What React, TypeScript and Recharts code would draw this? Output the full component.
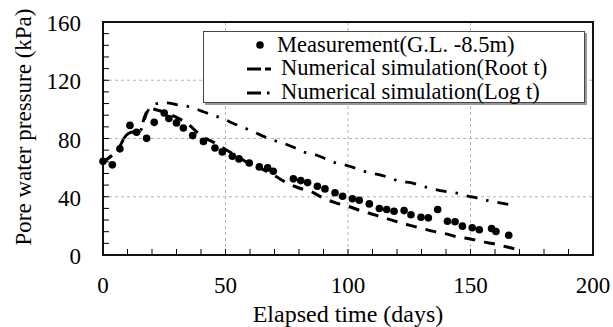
import React from "react";
import {
  CartesianGrid,
  ComposedChart,
  Legend,
  Line,
  ReferenceArea,
  Scatter,
  XAxis,
  YAxis,
} from "recharts";

const FONT = '"Liberation Serif", "Times New Roman", serif';

// measured pore water pressure, G.L. -8.5m
const measDays = [
  0, 3.8, 6.9, 11, 13.7, 17.8, 20.9, 25, 26.9, 30, 32.8, 36.6, 41, 45.7, 48.7,
  52.8, 55.5, 59.7, 63.8, 67.2, 69.5, 77.7, 80.7, 83.5, 87.5, 90.6, 94.7, 97.8,
  101.8, 104.6, 108.7, 112.8, 115.8, 118.8, 122.9, 125.7, 129.8, 132.8, 136.6,
  140.6, 143.7, 146.7, 150.7, 153.6, 158.6, 160.4, 165.6,
];
const measValues = [
  64.4, 61.9, 72.9, 89, 84.3, 80.1, 91.1, 97.5, 93.7, 90.7, 87.2, 82, 78, 73.5,
  70.8, 67.8, 66, 63.2, 60.5, 59.8, 57.5, 52.3, 51.1, 49.7, 47.2, 45.4, 42.7,
  40.3, 38.6, 37.6, 35.1, 31.9, 31.2, 30, 30.5, 27.6, 25.9, 25.5, 31.2, 23.2,
  22.8, 19.8, 18.7, 17.3, 18.2, 16.1, 13.6,
];

// numerical simulation, root t method
const rootDays = [
  0, 4, 7, 8.5, 10, 12, 15, 17, 19, 20, 25, 30, 35, 40, 45, 50, 55, 60, 65, 70,
  75, 80, 85, 90, 95, 100, 105, 110, 115, 120, 125, 130, 135, 140, 145, 150,
  155, 160, 165, 168,
];
const rootValues = [
  64, 69, 75, 80, 83, 84.5, 85, 95, 101, 100.5, 98, 94.5, 89.5, 82, 77.5, 72.5,
  67.5, 62.5, 59, 54.5, 49.5, 46, 43.5, 39, 35.8, 33.5, 30.5, 28, 25.5, 22.8,
  20.5, 18.3, 16.2, 14.5, 12.3, 11, 9, 7.5, 5.5, 4.3,
];

// numerical simulation, log t method
const logDays = [
  0, 4, 7, 8.5, 10, 12, 15, 18, 21, 25, 30, 36, 40, 44, 49, 53, 57, 61, 65, 70,
  74, 78, 82, 87, 91, 95, 100, 104, 108, 113, 117, 121, 126, 130, 135, 139, 144,
  148, 152.5, 157, 162, 166,
];
const logValues = [
  64, 69, 75, 80, 83, 84.5, 85, 98, 103.5, 104.5, 103.3, 101.4, 99, 96.5, 93.6,
  90.5, 87.7, 85, 81.8, 78.5, 76.5, 73.8, 70.7, 68.7, 66, 63.3, 61.3, 59.1,
  56.8, 55, 53, 50.6, 49.5, 47.4, 45.3, 43.8, 42.6, 40.8, 39.2, 37.4, 35.8,
  34.6,
];

const xTicks = [
  0, 10, 20, 30, 40, 50, 60, 70, 80, 90, 100, 110, 120, 130, 140, 150, 160, 170,
  180, 190, 200,
];
const yTicks = [
  0, 8, 16, 24, 32, 40, 48, 56, 64, 72, 80, 88, 96, 104, 112, 120, 128, 136, 144,
  152, 160,
];
const xLabels = [0, 50, 100, 150, 200];
const yLabels = [0, 40, 80, 120, 160];

const legendLabels = [
  "Measurement(G.L. -8.5m)",
  "Numerical simulation(Root t)",
  "Numerical simulation(Log t)",
];

const measData = measDays.map((t, i) => ({ t, p: measValues[i] }));
const rootData = rootDays.map((t, i) => ({ t, p: rootValues[i] }));
const logData = logDays.map((t, i) => ({ t, p: logValues[i] }));

const ROOT_DASH = "11 9";
const LOG_DASH = "11 9 2.5 9";

function XTick(props: any) {
  const { x, y, payload } = props;
  const v = payload.value;
  return (
    <g>
      {v > 0 && v < 200 && (
        <line x1={x} x2={x} y1={y} y2={y - 6} stroke="#000" strokeWidth={1} />
      )}
      {xLabels.includes(v) && (
        <text x={x} y={y + 38} textAnchor="middle" fontSize={23} fontFamily={FONT} fill="#000">
          {v}
        </text>
      )}
    </g>
  );
}

function YTick(props: any) {
  const { x, y, payload } = props;
  const v = payload.value;
  return (
    <g>
      {v > 0 && v < 160 && (
        <line x1={x} x2={x + 6} y1={y} y2={y} stroke="#000" strokeWidth={1} />
      )}
      {yLabels.includes(v) && (
        <text x={x - 22} y={y + 9} textAnchor="end" fontSize={23} fontFamily={FONT} fill="#000">
          {v}
        </text>
      )}
    </g>
  );
}

function LegendBox() {
  return (
    <div
      style={{
        width: 380,
        height: 69,
        background: "#fff",
        border: "1px solid #444",
        boxShadow: "2px 2px 0 #999",
        fontFamily: FONT,
        fontSize: 22.5,
        color: "#000",
        paddingTop: 1,
      }}
    >
      <div style={{ height: 23.5, display: "flex", alignItems: "center", marginLeft: 45 }}>
        <svg width={22} height={20}>
          <circle cx={11} cy={10} r={3.8} fill="#000" />
        </svg>
        <span style={{ marginLeft: 6, whiteSpace: "nowrap" }}>{legendLabels[0]}</span>
      </div>
      <div style={{ height: 23.5, display: "flex", alignItems: "center", marginLeft: 41 }}>
        <svg width={36} height={20}>
          <line x1={2} x2={36} y1={11} y2={11} stroke="#000" strokeWidth={3} strokeDasharray="14 4 6 20" />
        </svg>
        <span style={{ whiteSpace: "nowrap" }}>{legendLabels[1]}</span>
      </div>
      <div style={{ height: 23.5, display: "flex", alignItems: "center", marginLeft: 41 }}>
        <svg width={36} height={20}>
          <line x1={2} x2={36} y1={11} y2={11} stroke="#000" strokeWidth={3} strokeDasharray="14 6 2.5 20" />
        </svg>
        <span style={{ whiteSpace: "nowrap" }}>{legendLabels[2]}</span>
      </div>
    </div>
  );
}

export default function App() {
  return (
    <div style={{ position: "absolute", left: 0, top: 0, background: "#fff" }}>
      <ComposedChart
        width={613}
        height={327}
        margin={{ top: 22, right: 20, left: 102, bottom: 71 }}
      >
        <CartesianGrid
          horizontalValues={[40, 80, 120]}
          verticalValues={[50, 100, 150]}
          stroke="#b5b5b5"
          strokeDasharray="3 3"
        />
        <XAxis
          type="number"
          dataKey="t"
          domain={[0, 200]}
          ticks={xTicks}
          interval={0}
          height={1}
          tickSize={0}
          tickMargin={0}
          tickLine={false}
          axisLine={false}
          tick={<XTick />}
          label={{
            content: (p: any) => (
              <text
                x={p.viewBox.x + p.viewBox.width / 2}
                y={322}
                textAnchor="middle"
                fontSize={24}
                fontFamily={FONT}
                fill="#000"
              >
                Elapsed time (days)
              </text>
            ),
          }}
        />
        <YAxis
          type="number"
          dataKey="p"
          domain={[0, 160]}
          ticks={yTicks}
          interval={0}
          width={1}
          tickSize={0}
          tickMargin={0}
          tickLine={false}
          axisLine={false}
          tick={<YTick />}
          label={{
            content: () => (
              <text
                x={31}
                y={127}
                transform="rotate(-90 31 127)"
                textAnchor="middle"
                fontSize={23}
                fontFamily={FONT}
                fill="#000"
              >
                Pore water pressure (kPa)
              </text>
            ),
          }}
        />
        <ReferenceArea
          x1={0}
          x2={200}
          y1={0}
          y2={160}
          fill="none"
          stroke="#111"
          strokeWidth={2}
          ifOverflow="visible"
        />
        <Line
          data={rootData}
          dataKey="p"
          type="monotone"
          stroke="#000"
          strokeWidth={3}
          strokeDasharray={ROOT_DASH}
          dot={false}
          activeDot={false}
          isAnimationActive={false}
        />
        <Line
          data={logData}
          dataKey="p"
          type="monotone"
          stroke="#000"
          strokeWidth={2.8}
          strokeDasharray={LOG_DASH}
          dot={false}
          activeDot={false}
          isAnimationActive={false}
        />
        <Scatter
          data={measData}
          dataKey="p"
          fill="#000"
          isAnimationActive={false}
          shape={(p: any) => <circle cx={p.cx} cy={p.cy} r={3.8} fill="#000" />}
        />
        <Legend
          layout="vertical"
          align="center"
          verticalAlign="middle"
          content={() => <LegendBox />}
          wrapperStyle={{ left: 203, top: 31, width: 382, height: 71 }}
        />
      </ComposedChart>
    </div>
  );
}
